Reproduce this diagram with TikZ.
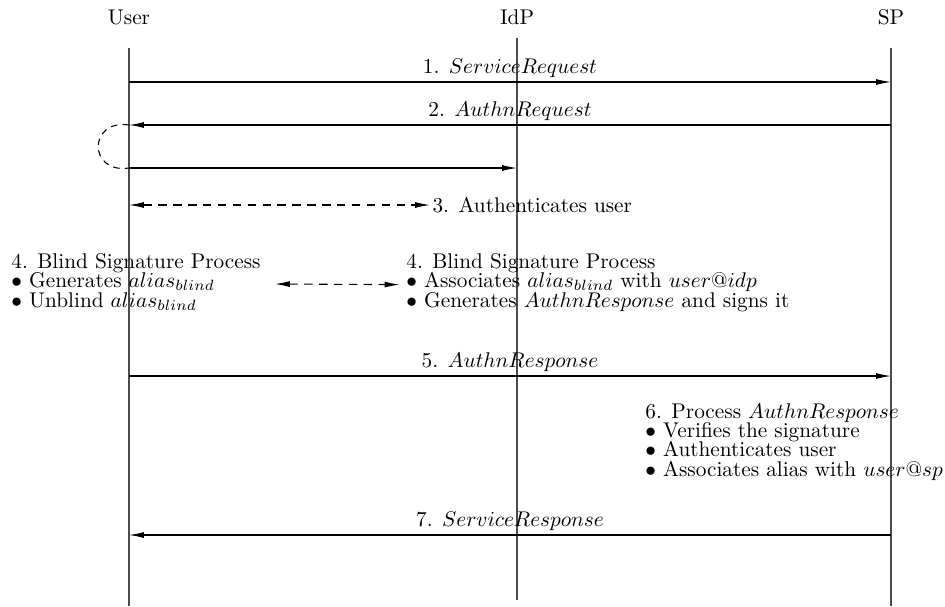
\documentclass[tikz,border=0pt]{standalone}
\usetikzlibrary{arrows.meta}
\begin{document}
\begin{tikzpicture}[x=0.47pt, y=-0.47pt,
    lifeline/.style={draw=black!70, line width=0.5pt},
    msg/.style={line width=0.5pt, -{Latex[length=7pt,width=2.8pt]}},
    dmsg/.style={line width=0.5pt, dash pattern=on 4pt off 3pt,
                 {Latex[length=7pt,width=2.8pt]}-{Latex[length=7pt,width=2.8pt]}},
    msglabel/.style={above, inner sep=2pt},
    actor/.style={anchor=base, inner sep=0pt},
    stepblock/.style={anchor=north west, inner sep=0pt, align=left,
                      font={\fontsize{10}{9.1}\selectfont\lineskiplimit=-20pt}}]
  \useasboundingbox (0,0) rectangle (945,606);

  % participants
  \node[actor] (user) at (129,24) {User};
  \node[actor] (idp)  at (517,24) {IdP};
  \node[actor] (sp)   at (891,24) {SP};

  % lifelines
  \coordinate (userTop) at (129,48);  \coordinate (userBot) at (129,606);
  \coordinate (idpTop)  at (517,38);  \coordinate (idpBot)  at (517,600);
  \coordinate (spTop)   at (891,48);  \coordinate (spBot)   at (891,606);
  \draw[lifeline] (userTop) -- (userBot);
  \draw[lifeline] (idpTop) -- (idpBot);
  \draw[lifeline] (spTop) -- (spBot);

  % message anchors on the lifelines
  \coordinate (u1) at (129,82);  \coordinate (s1) at (891,82);
  \coordinate (u2) at (129,125); \coordinate (s2) at (891,125);
  \coordinate (u3) at (129,168); \coordinate (i3) at (517,168);
  \coordinate (u4) at (129,205);
  \coordinate (u5) at (129,376); \coordinate (s5) at (891,376);
  \coordinate (u7) at (129,535); \coordinate (s7) at (891,535);

  % 1. service request
  \draw[msg] (u1) -- node[msglabel] (l1) {1. $ServiceRequest$} (s1);
  % 2. authentication request
  \draw[msg] (s2) -- node[msglabel] (l2) {2. $AuthnRequest$} (u2);
  % redirect loop at the user
  \draw[line width=0.5pt, dash pattern=on 3pt off 2.5pt]
    (u2) .. controls (88,119) and (88,174) .. (u3);
  \draw[msg] (u3) -- (i3);

  % 3. authentication
  \node[anchor=west, inner sep=1pt] (auth) at (430,205) {3. Authenticates user};
  \draw[dmsg] (u4) -- (auth.west);

  % 4. blind signature process
  \node[stepblock] (blindU) at (11,253)
    {4. Blind Signature Process\\
     $\bullet$ Generates $alias_{blind}$\\
     $\bullet$ Unblind $alias_{blind}$};
  \node[stepblock] (blindI) at (406,253)
    {4. Blind Signature Process\\
     $\bullet$ Associates $alias_{blind}$ with $user@idp$\\
     $\bullet$ Generates $AuthnResponse$ and signs it};
  \draw[dmsg] ([xshift=6.5pt,yshift=-1pt]blindU.east) -- ([xshift=-3pt,yshift=-1pt]blindI.west);

  % 5. authentication response
  \draw[msg] (u5) -- node[msglabel] (l5) {5. $AuthnResponse$} (s5);

  % 6. processing at the service provider
  \node[stepblock] (proc) at (645,403)
    {6. Process $AuthnResponse$\\
     $\bullet$ Verifies the signature\\
     $\bullet$ Authenticates user\\
     $\bullet$ Associates alias with $user@sp$};

  % 7. service response
  \draw[msg] (s7) -- node[msglabel] (l7) {7. $ServiceResponse$} (u7);
\end{tikzpicture}
\end{document}
